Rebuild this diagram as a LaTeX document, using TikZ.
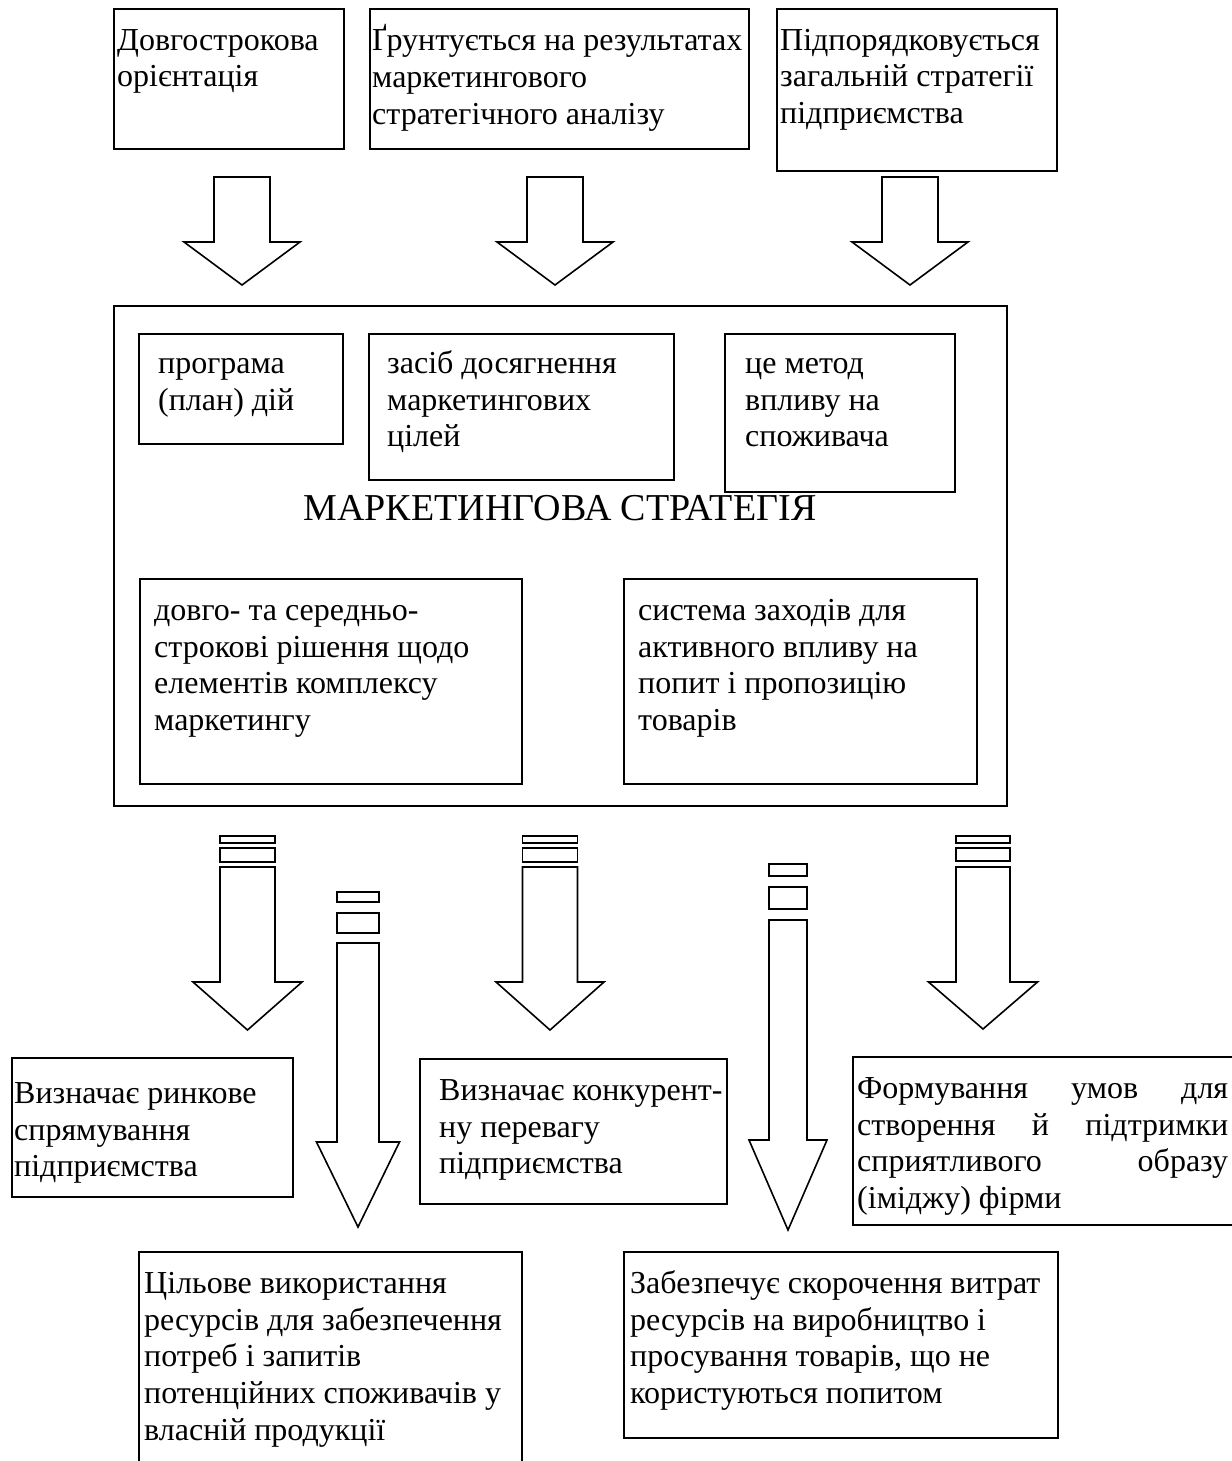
\documentclass[tikz,border=0pt]{standalone}
\usepackage{fontspec}
\setmainfont{Liberation Serif}
\newcommand\firstline{\rule{0pt}{26pt}}
\begin{document}
\begin{tikzpicture}[x=1pt,y=-1pt,
	frame/.style={draw,line width=1.6pt,anchor=north west,inner sep=0pt},
	txt/.style={anchor=north west,align=left,inner sep=0pt,font=\fontsize{32}{36.8}\selectfont},
	blk/.style={draw,line width=1.6pt,line join=miter}]
	\useasboundingbox (0,0) rectangle (1231,1461);
	% Main frame and title
	\node[frame,minimum width=893pt,minimum height=500pt] (strat) at (113,305) {};
	\node[font=\fontsize{38}{44}\selectfont,inner sep=0pt,anchor=base] (title) at (560,520) {МАРКЕТИНГОВА СТРАТЕГІЯ};
	% Text boxes: name / left / top / right / bottom / text inset / first baseline / text
	\foreach \n/\xa/\ya/\xb/\yb/\dx/\dy/\t in {
		dovgo/113/8/343/148/4/42/{Довгострокова\\орієнтація},
		grunt/369/8/748/148/3/42/{Ґрунтується на результатах\\маркетингового\\стратегічного аналізу},
		pidpor/776/8/1056/170/4/42/{Підпорядковується\\загальній стратегії\\підприємства},
		prog/138/333/342/443/20/40/{програма\\(план) дій},
		zasib/368/333/673/479/19/40/{засіб досягнення\\маркетингових\\цілей},
		metod/724/333/954/491/21/40/{це метод\\впливу на\\споживача},
		rishen/139/578/521/783/15/42/{довго- та середньо-\\строкові рішення щодо\\елементів комплексу\\маркетингу},
		system/623/578/976/783/15/42/{система заходів для\\активного впливу на\\попит і пропозицію\\товарів},
		rynok/11/1057/292/1196/3/46/{Визначає ринкове\\спрямування\\підприємства},
		konk/419/1058/726/1203/20/42/{Визначає конкурент-\\ну перевагу\\підприємства},
		cil/138/1251/521/1475/6/42/{Цільове використання\\ресурсів для забезпечення\\потреб і запитів\\потенційних споживачів у\\власній продукції},
		skor/623/1251/1057/1437/7/42/{Забезпечує скорочення витрат\\ресурсів на виробництво і\\просування товарів, що не\\користуються попитом}} {
		\node[frame,minimum width=\xb pt-\xa pt,minimum height=\yb pt-\ya pt] (\n) at (\xa,\ya) {};
		\node[txt] (\n-t) at ([xshift=\dx pt,yshift=26pt-\dy pt]\n.north west) {\firstline\t};
	}
	% Justified box on the right, cut by the page edge
	\node[frame,minimum width=400pt,minimum height=168pt] (imidzh) at (852,1056) {};
	\node[txt] (imidzh-t) at ([xshift=5pt,yshift=26pt-42pt]imidzh.north west)
	{\firstline\makebox[371pt][s]{Формування умов для}\\\makebox[371pt][s]{створення й підтримки}\\\makebox[371pt][s]{сприятливого образу}\\(іміджу) фірми};
	% Plain block arrows: centre / shaft top / head / tip / half shaft / half head
	\foreach \cx/\ya/\yh/\yt/\hs/\hh in {242/177/242/285/28/58, 555/177/242/285/28/58, 910/177/242/285/28/58} {
		\draw[blk] (\cx-\hs,\ya) -- (\cx+\hs,\ya) -- (\cx+\hs,\yh) -- (\cx+\hh,\yh)
		-- (\cx,\yt) -- (\cx-\hh,\yh) -- (\cx-\hs,\yh) -- cycle;
	}
	% Striped block arrows: centre / half shaft / half head / stripes / shaft top / head / tip
	\foreach \cx/\hs/\hh/\sa/\sb/\sc/\sd/\ya/\yh/\yt in {
		247.5/27.5/54.5/836/843/848/862/867/982/1030,
		358/21/41.5/892/902/913/933/943/1142/1227,
		550/27.5/54/836/843/848/862/867/982/1030,
		788/19/39/864/876/887/909/920/1140/1230,
		983/27/54.5/836/843/848/861/867/982/1029} {
		\draw[blk] (\cx-\hs,\sa) rectangle (\cx+\hs,\sb);
		\draw[blk] (\cx-\hs,\sc) rectangle (\cx+\hs,\sd);
		\draw[blk] (\cx-\hs,\ya) -- (\cx+\hs,\ya) -- (\cx+\hs,\yh) -- (\cx+\hh,\yh)
		-- (\cx,\yt) -- (\cx-\hh,\yh) -- (\cx-\hs,\yh) -- cycle;
	}
\end{tikzpicture}
\end{document}
